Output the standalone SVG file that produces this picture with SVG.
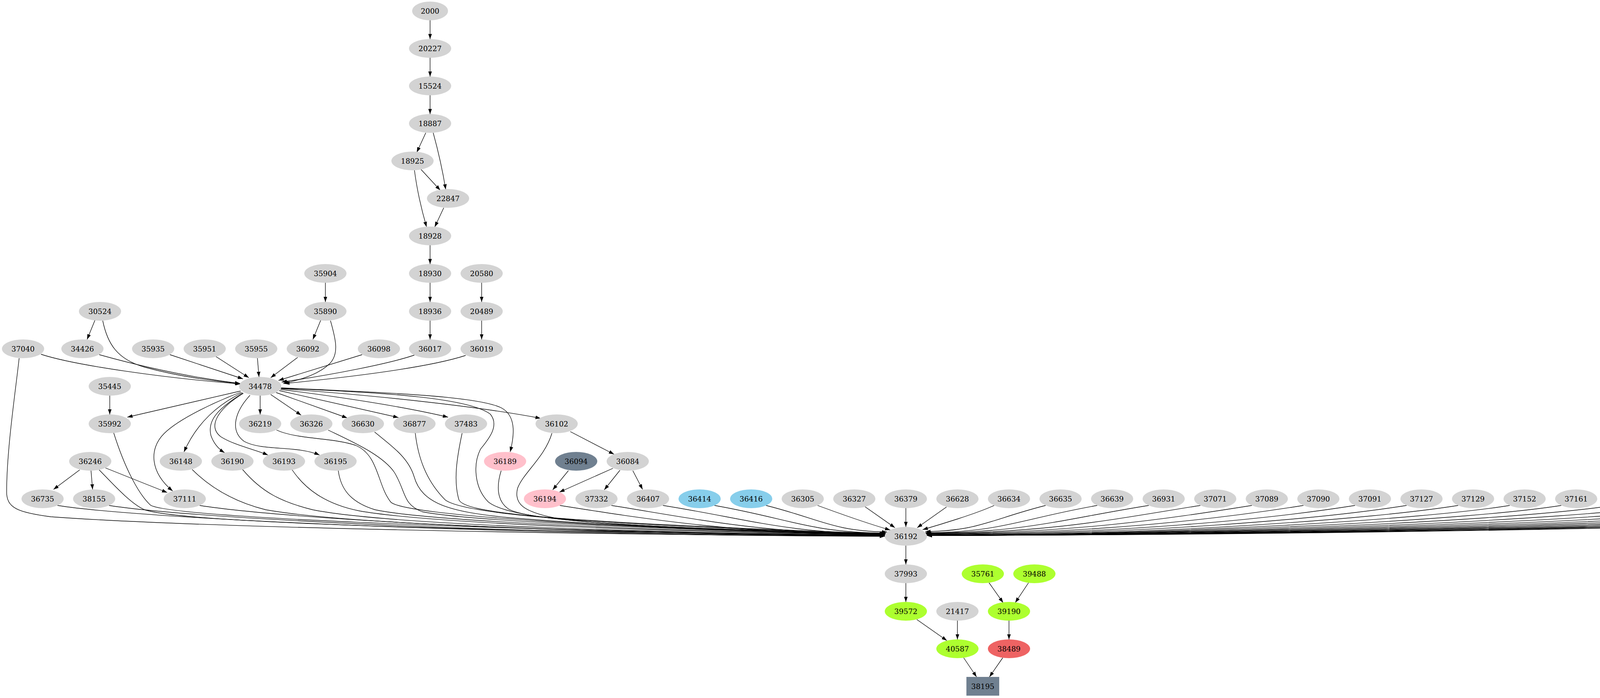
<svg xmlns="http://www.w3.org/2000/svg" width="5678" height="1787" viewBox="0 0 5678 1787">
<defs>
<marker id="a" markerWidth="13.3" markerHeight="9.33" refX="13.3" refY="4.67" orient="auto" markerUnits="userSpaceOnUse" viewBox="0 0 13.3 9.33"><path d="M0,0L13.3,4.67L0,9.33z" fill="#000"/></marker>
<style>
.g{fill:#d3d3d3}.p{fill:#ffc0cb}.s{fill:#87ceeb}.d{fill:#708090}.y{fill:#adff2f}.r{fill:#ee6363}
text{font-family:"DejaVu Serif","Liberation Serif",serif;font-size:18.67px;text-anchor:middle;fill:#000}
#edges path{fill:none;stroke:#000;stroke-width:1.33;marker-end:url(#a)}
</style>
</defs>
<rect width="5678" height="1787" fill="#fff"/>
<g id="edges">
<path d="M1101,52 L1101,100"/>
<path d="M1101,148 L1101,196"/>
<path d="M1101,244 L1101,292"/>
<path d="M1090,340 L1067,390"/>
<path d="M1109,340 C1120,380 1132,430 1141,485"/>
<path d="M1078,434 L1127,487"/>
<path d="M1061,436 C1068,490 1080,540 1092,581"/>
<path d="M1136,532 L1113,581"/>
<path d="M1101,628 L1101,676"/>
<path d="M1101,724 L1101,773"/>
<path d="M1101,821 L1101,869"/>
<path d="M833,724 L833,773"/>
<path d="M1233,724 L1233,773"/>
<path d="M1233,821 L1233,869"/>
<path d="M821,820 L801,869"/>
<path d="M243,820 L223,869"/>
<path d="M105,907 C190,935 420,968 616,983"/>
<path d="M254,908 C350,935 480,965 615,982"/>
<path d="M263,821 C275,880 300,920 370,940 C450,962 540,975 615,982"/>
<path d="M435,908 L622,970"/>
<path d="M553,913 L637,967"/>
<path d="M659,917 L663,965"/>
<path d="M762,915 L693,967"/>
<path d="M927,908 L713,974"/>
<path d="M1061,909 C1000,930 850,960 721,978"/>
<path d="M1192,910 C1100,940 900,965 728,982"/>
<path d="M846,821 C860,870 868,905 845,930 C820,955 780,970 725,982"/>
<path d="M281,1013 L281,1061"/>
<path d="M616,1001 L326,1068"/>
<path d="M617,1004 C560,1025 460,1070 420,1110 C380,1150 385,1210 442,1257"/>
<path d="M620,1005 C560,1035 505,1080 471,1157"/>
<path d="M622,1006 C560,1045 530,1075 540,1115 C547,1135 560,1150 575,1159"/>
<path d="M623,1007 C560,1045 530,1090 565,1118 C600,1140 650,1150 686,1165"/>
<path d="M640,1012 C605,1050 585,1100 625,1130 C670,1155 760,1140 818,1165"/>
<path d="M666,1013 L666,1061"/>
<path d="M693,1010 L771,1063"/>
<path d="M707,1005 L889,1070"/>
<path d="M715,1000 L1020,1069"/>
<path d="M718,997 C900,1020 1050,1045 1147,1068"/>
<path d="M720,995 C1000,1015 1250,1045 1384,1071"/>
<path d="M720,993 C1000,1005 1230,1015 1285,1045 C1320,1065 1318,1110 1306,1157"/>
<path d="M719,994 C1000,1005 1200,1020 1255,1060 C1280,1090 1250,1125 1230,1150 C1210,1190 1215,1250 1250,1285 C1300,1325 1500,1350 2265,1366"/>
<path d="M204,1203 L137,1253"/>
<path d="M233,1205 L237,1253"/>
<path d="M270,1198 L428,1261"/>
<path d="M1460,1105 L1572,1163"/>
<path d="M1455,1205 L1415,1254"/>
<path d="M1569,1199 L1432,1260"/>
<path d="M1587,1204 L1547,1254"/>
<path d="M1620,1205 L1645,1253"/>
<path d="M49,917 C40,1000 17,1150 17,1260 C17,1300 45,1312 130,1323 C500,1350 1400,1368 2265,1373"/>
<path d="M147,1294 C367,1329 1312,1371 2265,1373"/>
<path d="M279,1294 C499,1329 1371,1370 2265,1372"/>
<path d="M254,1203 C290,1240 335,1290 370,1305 C470,1340 1300,1362 2265,1371"/>
<path d="M291,1108 C320,1200 355,1265 385,1293 C430,1325 1300,1360 2265,1371"/>
<path d="M511,1294 C731,1329 1476,1370 2265,1371"/>
<path d="M492,1202 C540,1250 600,1285 680,1305 C900,1345 1600,1365 2265,1370"/>
<path d="M621,1202 C670,1260 720,1285 800,1305 C1000,1345 1700,1365 2265,1370"/>
<path d="M748,1203 C780,1250 830,1290 920,1308 C1100,1340 1700,1362 2265,1369"/>
<path d="M866,1205 C872,1250 895,1285 960,1305 C1100,1335 1700,1360 2265,1369"/>
<path d="M708,1101 C760,1125 850,1120 910,1140 C970,1165 965,1240 1000,1285 C1030,1320 1600,1355 2265,1368"/>
<path d="M840,1101 C900,1130 980,1165 1010,1210 C1040,1260 1030,1290 1080,1310 C1200,1335 1800,1360 2265,1368"/>
<path d="M959,1106 C1000,1140 1045,1170 1060,1220 C1080,1290 1150,1310 1300,1325 C1600,1350 2000,1362 2265,1367"/>
<path d="M1063,1108 C1070,1170 1090,1230 1140,1280 C1180,1310 1400,1340 2265,1367"/>
<path d="M1183,1109 C1170,1170 1160,1230 1175,1280 C1190,1310 1350,1335 2265,1366"/>
<path d="M1283,1205 C1272,1240 1270,1280 1300,1302 C1340,1330 1600,1352 2265,1366"/>
<path d="M1413,1109 C1395,1170 1340,1210 1325,1250 C1315,1290 1340,1310 1420,1326 C1600,1350 1900,1362 2265,1366"/>
<path d="M1433,1294 C1653,1329 1891,1367 2266,1369"/>
<path d="M1565,1294 C1785,1329 1951,1366 2266,1368"/>
<path d="M1697,1294 C1917,1329 2010,1365 2267,1367"/>
<path d="M1829,1294 C2027,1329 2070,1363 2268,1365"/>
<path d="M1961,1294 C2100,1329 2132,1360 2271,1362"/>
<path d="M2093,1294 C2150,1315 2220,1340 2279,1357"/>
<path d="M2214,1297 L2291,1351"/>
<path d="M2319,1301 L2319,1349"/>
<path d="M2423,1298 L2348,1351"/>
<path d="M2545,1294 C2500,1315 2400,1345 2362,1356"/>
<path d="M2677,1294 C2538,1329 2508,1359 2369,1361"/>
<path d="M2809,1294 C2611,1329 2567,1362 2369,1364"/>
<path d="M2941,1294 C2721,1329 2627,1363 2370,1365"/>
<path d="M3073,1294 C2853,1329 2687,1364 2371,1366"/>
<path d="M3205,1294 C2985,1329 2746,1365 2371,1367"/>
<path d="M3337,1294 C3117,1329 2806,1366 2372,1368"/>
<path d="M3469,1294 C3249,1329 2866,1367 2372,1369"/>
<path d="M3601,1294 C3381,1329 2926,1368 2373,1370"/>
<path d="M3733,1294 C3513,1329 2985,1369 2373,1371"/>
<path d="M3865,1294 C3645,1329 3044,1369 2373,1371"/>
<path d="M3997,1294 C3777,1329 3104,1369 2373,1371"/>
<path d="M4129,1294 C3909,1329 3163,1369 2373,1371"/>
<path d="M4261,1294 C4041,1329 3223,1369 2373,1371"/>
<path d="M4393,1294 C4173,1329 3282,1369 2373,1371"/>
<path d="M4525,1294 C4305,1329 3341,1369 2373,1371"/>
<path d="M4657,1294 C4437,1329 3401,1369 2373,1371"/>
<path d="M4789,1294 C4569,1329 3460,1369 2373,1371"/>
<path d="M4921,1294 C4701,1329 3520,1369 2373,1371"/>
<path d="M5053,1294 C4833,1329 3579,1369 2373,1371"/>
<path d="M5185,1294 C4965,1329 3638,1369 2373,1371"/>
<path d="M5317,1294 C5097,1329 3698,1369 2373,1371"/>
<path d="M5449,1294 C5229,1329 3757,1369 2373,1371"/>
<path d="M5581,1294 C5361,1329 3817,1369 2373,1371"/>
<path d="M2319,1397 L2319,1445"/>
<path d="M2319,1493 L2319,1541"/>
<path d="M2347,1586 L2424,1640"/>
<path d="M2451,1589 L2451,1637"/>
<path d="M2532,1492 L2568,1543"/>
<path d="M2633,1492 L2599,1543"/>
<path d="M2583,1589 L2583,1637"/>
<path d="M2467,1684 L2500,1733"/>
<path d="M2567,1684 L2533,1733"/>
</g>
<g id="n2000"><ellipse class="g" cx="1101" cy="28" rx="46" ry="24"/><text x="1101" y="34.5">2000</text></g>
<g id="n20227"><ellipse class="g" cx="1101" cy="124" rx="54" ry="24"/><text x="1101" y="130.5">20227</text></g>
<g id="n15524"><ellipse class="g" cx="1101" cy="220" rx="54" ry="24"/><text x="1101" y="226.5">15524</text></g>
<g id="n18887"><ellipse class="g" cx="1101" cy="316" rx="54" ry="24"/><text x="1101" y="322.5">18887</text></g>
<g id="n18925"><ellipse class="g" cx="1056" cy="412" rx="54" ry="24"/><text x="1056" y="418.5">18925</text></g>
<g id="n22847"><ellipse class="g" cx="1147" cy="508" rx="54" ry="24"/><text x="1147" y="514.5">22847</text></g>
<g id="n18928"><ellipse class="g" cx="1101" cy="604" rx="54" ry="24"/><text x="1101" y="610.5">18928</text></g>
<g id="n35904"><ellipse class="g" cx="833" cy="700" rx="54" ry="24"/><text x="833" y="706.5">35904</text></g>
<g id="n18930"><ellipse class="g" cx="1101" cy="700" rx="54" ry="24"/><text x="1101" y="706.5">18930</text></g>
<g id="n20580"><ellipse class="g" cx="1233" cy="700" rx="54" ry="24"/><text x="1233" y="706.5">20580</text></g>
<g id="n30524"><ellipse class="g" cx="256" cy="797" rx="54" ry="24"/><text x="256" y="803.5">30524</text></g>
<g id="n35890"><ellipse class="g" cx="833" cy="797" rx="54" ry="24"/><text x="833" y="803.5">35890</text></g>
<g id="n18936"><ellipse class="g" cx="1101" cy="797" rx="54" ry="24"/><text x="1101" y="803.5">18936</text></g>
<g id="n20489"><ellipse class="g" cx="1233" cy="797" rx="54" ry="24"/><text x="1233" y="803.5">20489</text></g>
<g id="n37040"><ellipse class="g" cx="59" cy="893" rx="54" ry="24"/><text x="59" y="899.5">37040</text></g>
<g id="n34426"><ellipse class="g" cx="211" cy="893" rx="54" ry="24"/><text x="211" y="899.5">34426</text></g>
<g id="n35935"><ellipse class="g" cx="392" cy="893" rx="54" ry="24"/><text x="392" y="899.5">35935</text></g>
<g id="n35951"><ellipse class="g" cx="524" cy="893" rx="54" ry="24"/><text x="524" y="899.5">35951</text></g>
<g id="n35955"><ellipse class="g" cx="656" cy="893" rx="54" ry="24"/><text x="656" y="899.5">35955</text></g>
<g id="n36092"><ellipse class="g" cx="788" cy="893" rx="54" ry="24"/><text x="788" y="899.5">36092</text></g>
<g id="n36098"><ellipse class="g" cx="970" cy="893" rx="54" ry="24"/><text x="970" y="899.5">36098</text></g>
<g id="n36017"><ellipse class="g" cx="1101" cy="893" rx="54" ry="24"/><text x="1101" y="899.5">36017</text></g>
<g id="n36019"><ellipse class="g" cx="1233" cy="893" rx="54" ry="24"/><text x="1233" y="899.5">36019</text></g>
<g id="n35445"><ellipse class="g" cx="281" cy="989" rx="54" ry="24"/><text x="281" y="995.5">35445</text></g>
<g id="n34478"><ellipse class="g" cx="666" cy="989" rx="54" ry="24"/><text x="666" y="995.5">34478</text></g>
<g id="n35992"><ellipse class="g" cx="281" cy="1085" rx="54" ry="24"/><text x="281" y="1091.5">35992</text></g>
<g id="n36219"><ellipse class="g" cx="666" cy="1085" rx="54" ry="24"/><text x="666" y="1091.5">36219</text></g>
<g id="n36326"><ellipse class="g" cx="797" cy="1085" rx="54" ry="24"/><text x="797" y="1091.5">36326</text></g>
<g id="n36630"><ellipse class="g" cx="929" cy="1085" rx="54" ry="24"/><text x="929" y="1091.5">36630</text></g>
<g id="n36877"><ellipse class="g" cx="1061" cy="1085" rx="54" ry="24"/><text x="1061" y="1091.5">36877</text></g>
<g id="n37483"><ellipse class="g" cx="1193" cy="1085" rx="54" ry="24"/><text x="1193" y="1091.5">37483</text></g>
<g id="n36102"><ellipse class="g" cx="1425" cy="1085" rx="54" ry="24"/><text x="1425" y="1091.5">36102</text></g>
<g id="n36246"><ellipse class="g" cx="231" cy="1181" rx="54" ry="24"/><text x="231" y="1187.5">36246</text></g>
<g id="n36148"><ellipse class="g" cx="463" cy="1181" rx="54" ry="24"/><text x="463" y="1187.5">36148</text></g>
<g id="n36190"><ellipse class="g" cx="595" cy="1181" rx="54" ry="24"/><text x="595" y="1187.5">36190</text></g>
<g id="n36193"><ellipse class="g" cx="727" cy="1181" rx="54" ry="24"/><text x="727" y="1187.5">36193</text></g>
<g id="n36195"><ellipse class="g" cx="859" cy="1181" rx="54" ry="24"/><text x="859" y="1187.5">36195</text></g>
<g id="n36189"><ellipse class="p" cx="1293" cy="1181" rx="54" ry="24"/><text x="1293" y="1187.5">36189</text></g>
<g id="n36094"><ellipse class="d" cx="1475" cy="1181" rx="54" ry="24"/><text x="1475" y="1187.5">36094</text></g>
<g id="n36084"><ellipse class="g" cx="1607" cy="1181" rx="54" ry="24"/><text x="1607" y="1187.5">36084</text></g>
<g id="n36735"><ellipse class="g" cx="109" cy="1277" rx="54" ry="24"/><text x="109" y="1283.5">36735</text></g>
<g id="n38155"><ellipse class="g" cx="241" cy="1277" rx="54" ry="24"/><text x="241" y="1283.5">38155</text></g>
<g id="n37111"><ellipse class="g" cx="473" cy="1277" rx="54" ry="24"/><text x="473" y="1283.5">37111</text></g>
<g id="n36194"><ellipse class="p" cx="1395" cy="1277" rx="54" ry="24"/><text x="1395" y="1283.5">36194</text></g>
<g id="n37332"><ellipse class="g" cx="1527" cy="1277" rx="54" ry="24"/><text x="1527" y="1283.5">37332</text></g>
<g id="n36407"><ellipse class="g" cx="1659" cy="1277" rx="54" ry="24"/><text x="1659" y="1283.5">36407</text></g>
<g id="n36414"><ellipse class="s" cx="1791" cy="1277" rx="54" ry="24"/><text x="1791" y="1283.5">36414</text></g>
<g id="n36416"><ellipse class="s" cx="1923" cy="1277" rx="54" ry="24"/><text x="1923" y="1283.5">36416</text></g>
<g id="n36305"><ellipse class="g" cx="2055" cy="1277" rx="54" ry="24"/><text x="2055" y="1283.5">36305</text></g>
<g id="n36327"><ellipse class="g" cx="2187" cy="1277" rx="54" ry="24"/><text x="2187" y="1283.5">36327</text></g>
<g id="n36379"><ellipse class="g" cx="2319" cy="1277" rx="54" ry="24"/><text x="2319" y="1283.5">36379</text></g>
<g id="n36628"><ellipse class="g" cx="2451" cy="1277" rx="54" ry="24"/><text x="2451" y="1283.5">36628</text></g>
<g id="n36634"><ellipse class="g" cx="2583" cy="1277" rx="54" ry="24"/><text x="2583" y="1283.5">36634</text></g>
<g id="n36635"><ellipse class="g" cx="2715" cy="1277" rx="54" ry="24"/><text x="2715" y="1283.5">36635</text></g>
<g id="n36639"><ellipse class="g" cx="2847" cy="1277" rx="54" ry="24"/><text x="2847" y="1283.5">36639</text></g>
<g id="n36931"><ellipse class="g" cx="2979" cy="1277" rx="54" ry="24"/><text x="2979" y="1283.5">36931</text></g>
<g id="n37071"><ellipse class="g" cx="3111" cy="1277" rx="54" ry="24"/><text x="3111" y="1283.5">37071</text></g>
<g id="n37089"><ellipse class="g" cx="3243" cy="1277" rx="54" ry="24"/><text x="3243" y="1283.5">37089</text></g>
<g id="n37090"><ellipse class="g" cx="3375" cy="1277" rx="54" ry="24"/><text x="3375" y="1283.5">37090</text></g>
<g id="n37091"><ellipse class="g" cx="3507" cy="1277" rx="54" ry="24"/><text x="3507" y="1283.5">37091</text></g>
<g id="n37127"><ellipse class="g" cx="3639" cy="1277" rx="54" ry="24"/><text x="3639" y="1283.5">37127</text></g>
<g id="n37129"><ellipse class="g" cx="3771" cy="1277" rx="54" ry="24"/><text x="3771" y="1283.5">37129</text></g>
<g id="n37152"><ellipse class="g" cx="3903" cy="1277" rx="54" ry="24"/><text x="3903" y="1283.5">37152</text></g>
<g id="n37161"><ellipse class="g" cx="4035" cy="1277" rx="54" ry="24"/><text x="4035" y="1283.5">37161</text></g>
<g id="n37165"><ellipse class="g" cx="4167" cy="1277" rx="54" ry="24"/><text x="4167" y="1283.5">37165</text></g>
<g id="n37377"><ellipse class="g" cx="4299" cy="1277" rx="54" ry="24"/><text x="4299" y="1283.5">37377</text></g>
<g id="n37385"><ellipse class="g" cx="4431" cy="1277" rx="54" ry="24"/><text x="4431" y="1283.5">37385</text></g>
<g id="n37407"><ellipse class="g" cx="4563" cy="1277" rx="54" ry="24"/><text x="4563" y="1283.5">37407</text></g>
<g id="n37429"><ellipse class="g" cx="4695" cy="1277" rx="54" ry="24"/><text x="4695" y="1283.5">37429</text></g>
<g id="n37536"><ellipse class="g" cx="4827" cy="1277" rx="54" ry="24"/><text x="4827" y="1283.5">37536</text></g>
<g id="n37553"><ellipse class="g" cx="4959" cy="1277" rx="54" ry="24"/><text x="4959" y="1283.5">37553</text></g>
<g id="n37612"><ellipse class="g" cx="5091" cy="1277" rx="54" ry="24"/><text x="5091" y="1283.5">37612</text></g>
<g id="n37614"><ellipse class="g" cx="5223" cy="1277" rx="54" ry="24"/><text x="5223" y="1283.5">37614</text></g>
<g id="n38030"><ellipse class="g" cx="5355" cy="1277" rx="54" ry="24"/><text x="5355" y="1283.5">38030</text></g>
<g id="n38065"><ellipse class="g" cx="5487" cy="1277" rx="54" ry="24"/><text x="5487" y="1283.5">38065</text></g>
<g id="n38325"><ellipse class="g" cx="5619" cy="1277" rx="54" ry="24"/><text x="5619" y="1283.5">38325</text></g>
<g id="n36192"><ellipse class="g" cx="2319" cy="1373" rx="54" ry="24"/><text x="2319" y="1379.5">36192</text></g>
<g id="n37993"><ellipse class="g" cx="2319" cy="1469" rx="54" ry="24"/><text x="2319" y="1475.5">37993</text></g>
<g id="n35761"><ellipse class="y" cx="2516" cy="1469" rx="54" ry="24"/><text x="2516" y="1475.5">35761</text></g>
<g id="n39488"><ellipse class="y" cx="2648" cy="1469" rx="54" ry="24"/><text x="2648" y="1475.5">39488</text></g>
<g id="n39572"><ellipse class="y" cx="2319" cy="1565" rx="54" ry="24"/><text x="2319" y="1571.5">39572</text></g>
<g id="n21417"><ellipse class="g" cx="2451" cy="1565" rx="54" ry="24"/><text x="2451" y="1571.5">21417</text></g>
<g id="n39190"><ellipse class="y" cx="2583" cy="1565" rx="54" ry="24"/><text x="2583" y="1571.5">39190</text></g>
<g id="n40587"><ellipse class="y" cx="2451" cy="1661" rx="54" ry="24"/><text x="2451" y="1667.5">40587</text></g>
<g id="n38489"><ellipse class="r" cx="2583" cy="1661" rx="54" ry="24"/><text x="2583" y="1667.5">38489</text></g>
<g id="n38195"><rect class="d" x="2474" y="1733" width="84" height="48"/><text x="2516" y="1763.5">38195</text></g>
</svg>
